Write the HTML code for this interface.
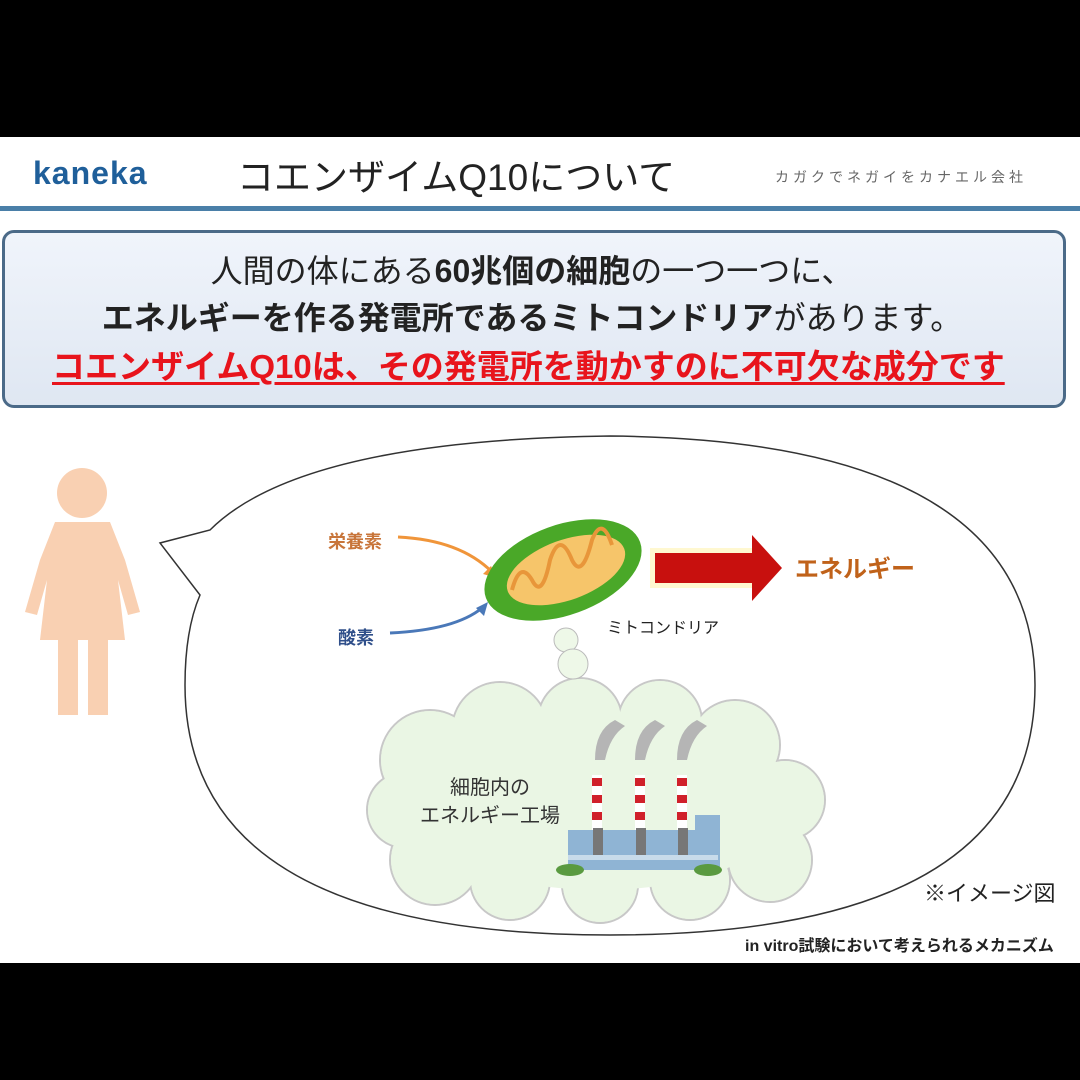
<!DOCTYPE html>
<html><head><meta charset="utf-8"><style>
body{margin:0;width:1080px;height:1080px;background:#000;position:relative;overflow:hidden;font-family:"Liberation Sans","Noto Sans CJK JP",sans-serif}
.a{position:absolute;white-space:nowrap}
</style></head><body>
<div class="a" style="left:0;top:137px;width:1080px;height:826px;background:#fff"></div>
<div class="a" style="left:33px;top:155px;font-size:32px;font-weight:bold;color:#1f5f9a;letter-spacing:1px">kaneka</div>
<div class="a" style="left:237px;top:147px;font-size:37px;color:#222">コエンザイムQ10について</div>
<div class="a" style="left:775px;top:167px;font-size:14px;color:#666;letter-spacing:4px">カガクでネガイをカナエル会社</div>
<div class="a" style="left:0;top:206px;width:1080px;height:5px;background:#4a7fa8"></div>
<div class="a" style="left:2px;top:230px;width:1058px;height:172px;border:3px solid #4b6a88;border-radius:12px;background:linear-gradient(#f0f4fb,#dfe7f2)"></div>
<div class="a" style="left:0;top:248px;width:1064px;text-align:center;font-size:32px;color:#222;line-height:47px">人間の体にある<b>60兆個の細胞</b>の一つ一つに、<br><b>エネルギーを作る発電所であるミトコンドリア</b>があります。</div>
<div class="a" style="left:52px;top:340px;font-size:33px;font-weight:bold;color:#e8141c;text-decoration:underline;text-underline-offset:4px">コエンザイムQ10は、その発電所を動かすのに不可欠な成分です</div>
<svg class="a" style="left:0;top:0" width="1080" height="1080">
<path d="M210 530 Q300 440 610 436 Q1035 440 1035 685 Q1035 935 610 935 Q185 935 185 685 Q185 630 200 595 L160 543 Z" fill="#fff" stroke="#333" stroke-width="1.5"/>
<g fill="#f9d0b2">
<circle cx="82" cy="493" r="25"/>
<path d="M55 522 L110 522 L125 560 L140 612 L128 615 L118 580 L125 640 L40 640 L47 580 L37 615 L25 612 L40 560 Z"/>
<rect x="58" y="640" width="20" height="75"/><rect x="88" y="640" width="20" height="75"/>
</g>
<g fill="#eaf6e4" stroke="#c8c8c8" stroke-width="2">
<circle cx="430" cy="760" r="50"/><circle cx="500" cy="730" r="48"/><circle cx="580" cy="720" r="42"/><circle cx="660" cy="722" r="42"/><circle cx="735" cy="745" r="45"/><circle cx="785" cy="800" r="40"/><circle cx="770" cy="860" r="42"/><circle cx="690" cy="880" r="40"/><circle cx="600" cy="885" r="38"/><circle cx="510" cy="880" r="40"/><circle cx="435" cy="860" r="45"/><circle cx="405" cy="810" r="38"/>
</g>
<g fill="#eaf6e4">
<circle cx="430" cy="760" r="49"/><circle cx="500" cy="730" r="47"/><circle cx="580" cy="720" r="41"/><circle cx="660" cy="722" r="41"/><circle cx="735" cy="745" r="44"/><circle cx="785" cy="800" r="39"/><circle cx="770" cy="860" r="41"/><circle cx="690" cy="880" r="39"/><circle cx="600" cy="885" r="37"/><circle cx="510" cy="880" r="39"/><circle cx="435" cy="860" r="44"/><circle cx="405" cy="810" r="37"/>
<ellipse cx="600" cy="805" rx="190" ry="85"/>
</g>
<circle cx="566" cy="640" r="12" fill="#eef8e8" stroke="#bbb"/>
<circle cx="573" cy="664" r="15" fill="#eef8e8" stroke="#bbb"/>
<g fill="#b5b5b5"><path d="M595 760 q0-30 20-40 l10 6 q-15 10-20 34z"/><path d="M635 760 q0-30 20-40 l10 6 q-15 10-20 34z"/><path d="M677 760 q0-30 20-40 l10 6 q-15 10-20 34z"/></g>
<g><rect x="592" y="775" width="10" height="70" fill="#fff"/><rect x="635" y="775" width="10" height="70" fill="#fff"/><rect x="677" y="775" width="10" height="70" fill="#fff"/>
<g fill="#d0202a"><rect x="592" y="778" width="10" height="8"/><rect x="592" y="795" width="10" height="8"/><rect x="592" y="812" width="10" height="8"/><rect x="635" y="778" width="10" height="8"/><rect x="635" y="795" width="10" height="8"/><rect x="635" y="812" width="10" height="8"/><rect x="677" y="778" width="10" height="8"/><rect x="677" y="795" width="10" height="8"/><rect x="677" y="812" width="10" height="8"/></g>
<rect x="568" y="830" width="150" height="40" fill="#8fb4d4"/><rect x="695" y="815" width="25" height="55" fill="#8fb4d4"/>
<rect x="593" y="828" width="10" height="30" fill="#777"/><rect x="636" y="828" width="10" height="30" fill="#777"/><rect x="678" y="828" width="10" height="30" fill="#777"/>
<rect x="568" y="855" width="150" height="5" fill="#c8dbea"/>
<ellipse cx="570" cy="870" rx="14" ry="6" fill="#5a9a40"/><ellipse cx="708" cy="870" rx="14" ry="6" fill="#5a9a40"/></g>
<path d="M398 537 Q460 540 492 572" fill="none" stroke="#f0953a" stroke-width="3"/><path d="M497 578 l-14-4 l8-8z" fill="#f0953a"/>
<path d="M390 633 Q455 630 482 608" fill="none" stroke="#4a78b8" stroke-width="3"/><path d="M488 602 l-4 14 l-8-8z" fill="#4a78b8"/>
<ellipse cx="563" cy="570" rx="82" ry="45" transform="rotate(-20 563 570)" fill="#4aa828"/>
<ellipse cx="566" cy="570" rx="62" ry="30" transform="rotate(-20 566 570)" fill="#f6c56a"/>
<path d="M512 590 q8-30 20-10 q10 20 18-20 q10-30 22 0 q10 20 20-20 q10-25 20 5" fill="none" stroke="#e8963a" stroke-width="4"/>
<rect x="650" y="548" width="105" height="40" fill="#fff4b0" opacity="0.6"/>
<rect x="655" y="553" width="100" height="30" fill="#c8100e"/>
<path d="M752 535 L782 568 L752 601 Z" fill="#c8100e"/>
</svg>
<div class="a" style="left:328px;top:528px;font-size:18px;font-weight:bold;color:#c8753a">栄養素</div>
<div class="a" style="left:338px;top:624px;font-size:18px;font-weight:bold;color:#2f4f8a">酸素</div>
<div class="a" style="left:795px;top:549px;font-size:24px;font-weight:bold;color:#c0621a">エネルギー</div>
<div class="a" style="left:607px;top:614px;font-size:16px;color:#222">ミトコンドリア</div>
<div class="a" style="left:420px;top:774px;font-size:20px;color:#333;line-height:28px"><span style="padding-left:30px">細胞内の</span><br>エネルギー工場</div>
<div class="a" style="left:924px;top:876px;font-size:22px;color:#222">※イメージ図</div>
<div class="a" style="left:745px;top:932px;font-size:16px;font-weight:bold;color:#222">in vitro試験において考えられるメカニズム</div>
</body></html>
